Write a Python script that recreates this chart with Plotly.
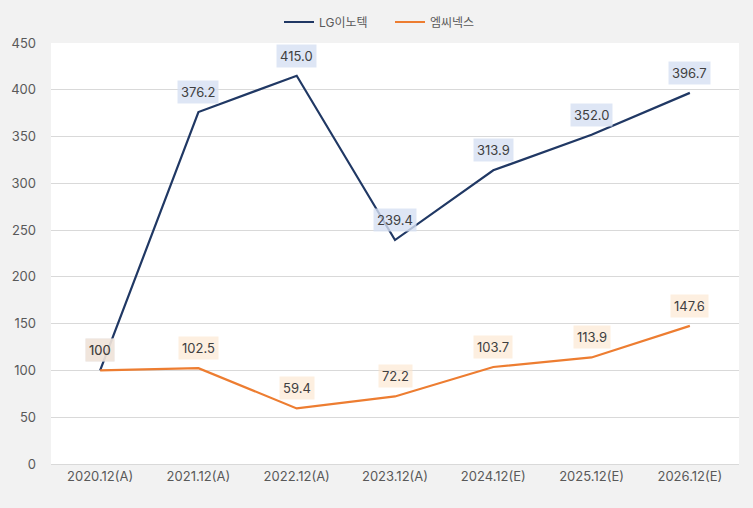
import plotly.graph_objects as go

categories = ["2020.12(A)", "2021.12(A)", "2022.12(A)", "2023.12(A)", "2024.12(E)", "2025.12(E)", "2026.12(E)"]
lg_values = [100, 376.2, 415.0, 239.4, 313.9, 352.0, 396.7]
lg_labels = ["100", "376.2", "415.0", "239.4", "313.9", "352.0", "396.7"]
mc_values = [100, 102.5, 59.4, 72.2, 103.7, 113.9, 147.6]
mc_labels = ["100", "102.5", "59.4", "72.2", "103.7", "113.9", "147.6"]
y_ticks = [0, 50, 100, 150, 200, 250, 300, 350, 400, 450]

FONT = "Inter, Noto Sans CJK KR, sans-serif"
fig = go.Figure()
fig.add_trace(go.Scatter(x=categories, y=lg_values, mode="lines", name="LG이노텍",
                         line=dict(color="#203864", width=2.2)))
fig.add_trace(go.Scatter(x=categories, y=mc_values, mode="lines", name="엠씨넥스",
                         line=dict(color="#ed7d31", width=2.2)))

anns = []
for c, v, t in zip(categories, lg_values, lg_labels):
    anns.append(dict(x=c, y=v, xref="x", yref="y", text=t, showarrow=False, yshift=20,
                     bgcolor="rgba(214,224,242,0.8)", borderpad=3,
                     font=dict(family=FONT, size=13, color="#404040")))
for c, v, t in zip(categories, mc_values, mc_labels):
    anns.append(dict(x=c, y=v, xref="x", yref="y", text=t, showarrow=False, yshift=20,
                     bgcolor="rgba(252,228,204,0.6)", borderpad=3,
                     font=dict(family=FONT, size=13, color="#404040")))

fig.update_layout(
    width=753, height=508,
    paper_bgcolor="#f2f2f2", plot_bgcolor="#ffffff",
    margin=dict(l=51, r=14, t=43, b=44, autoexpand=False),
    font=dict(family=FONT, size=13, color="#595959"),
    showlegend=True,
    legend=dict(orientation="h", x=279 / 753, xanchor="left", xref="container",
                y=1 - 22 / 508, yanchor="middle", yref="container",
                entrywidth=66, entrywidthmode="pixels", itemwidth=30,
                font=dict(family=FONT, size=12, color="#595959"), bgcolor="rgba(0,0,0,0)"),
    annotations=anns,
)
fig.update_xaxes(type="category", range=[-0.5, 6.5], showgrid=False, showline=True, automargin=False,
                 linecolor="#d9d9d9", linewidth=1, ticks="", tickfont=dict(size=13, color="#595959"))
fig.update_yaxes(range=[0, 450], tickvals=y_ticks, showgrid=True, gridcolor="#d9d9d9", automargin=False,
                 zeroline=False, showline=False, ticks="", ticklabelstandoff=14,
                 tickfont=dict(size=13, color="#595959"))
fig.write_html("out.html", config={"displayModeBar": False},
               post_script="document.body.style.margin='0';document.body.style.background='#f2f2f2';document.body.style.overflow='hidden';")
